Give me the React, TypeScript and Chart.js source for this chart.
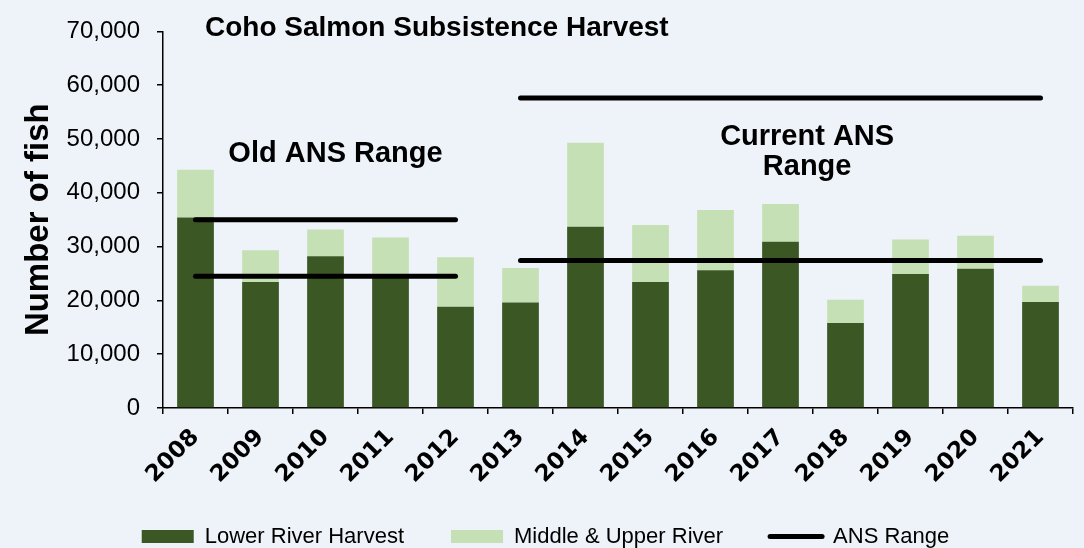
import React, { useEffect, useRef } from "react";
import { Chart, registerables } from "chart.js";

Chart.register(...registerables);

// ---- Data ----
const years = ["2008", "2009", "2010", "2011", "2012", "2013", "2014", "2015", "2016", "2017", "2018", "2019", "2020", "2021"];
const lowerRiverHarvest = [35400, 23400, 28200, 24400, 18800, 19600, 33700, 23400, 25600, 30900, 15800, 24900, 25900, 19700];
const middleUpperRiver = [8900, 5900, 5000, 7300, 9200, 6400, 15600, 10600, 11200, 7000, 4300, 6400, 6100, 3000];
const oldAnsLower = [24500, 24500, 24500, 24500, 24500, null, null, null, null, null, null, null, null, null];
const oldAnsUpper = [35000, 35000, 35000, 35000, 35000, null, null, null, null, null, null, null, null, null];
const currentAnsLower = [null, null, null, null, null, 27400, 27400, 27400, 27400, 27400, 27400, 27400, 27400, 27400];
const currentAnsUpper = [null, null, null, null, null, 57600, 57600, 57600, 57600, 57600, 57600, 57600, 57600, 57600];
const yTickValues = [0, 10000, 20000, 30000, 40000, 50000, 60000, 70000];

const seriesNames = ["Lower River Harvest", "Middle & Upper River", "ANS Range"];
const chartTitle = "Coho Salmon Subsistence Harvest";
const yAxisTitle = "Number of fish";
const oldRangeLabel = "Old ANS Range";
const currentRangeLabel = ["Current ANS", "Range"];

// ---- Styles ----
const FONT = "'Liberation Sans', Arial, sans-serif";
const DARK = "#3B5724";
const LIGHT = "#C5E0B4";
const BG = "#EEF2F9";

const annotationPlugin = {
  id: "rangeAnnotations",
  afterLayout(chart: any) {
    // let rotated year labels extend below the axis box (not clipped)
    const xs = chart.scales.x;
    if (xs) xs.bottom = chart.height;
    // nudge legend row to match reference placement
    if (chart.legend) {
      chart.legend.left += 9;
      chart.legend.right += 9;
    }
  },
  afterDraw(chart: any) {
    const { ctx } = chart;
    const x = chart.scales.x;
    const y = chart.scales.y;
    ctx.save();
    ctx.fillStyle = "#000";
    ctx.textBaseline = "alphabetic";
    // title
    ctx.font = `bold 28px ${FONT}`;
    ctx.textAlign = "left";
    ctx.fillText(chartTitle, x.getPixelForValue(0.146), y.getPixelForValue(69080));
    // old range label
    ctx.font = `bold 29px ${FONT}`;
    ctx.textAlign = "center";
    ctx.fillText(oldRangeLabel, x.getPixelForValue(2.154), y.getPixelForValue(45700));
    // current range label
    ctx.fillText(currentRangeLabel[0], x.getPixelForValue(9.41), y.getPixelForValue(48800));
    ctx.fillText(currentRangeLabel[1], x.getPixelForValue(9.41), y.getPixelForValue(43300));
    ctx.restore();
  },
};

export default function App() {
  const canvasRef = useRef<HTMLCanvasElement | null>(null);

  useEffect(() => {
    document.body.style.margin = "0";
    document.body.style.background = BG;
    const canvas = canvasRef.current;
    if (!canvas) return;

    const lineDataset = (label: string, data: (number | null)[], stack: string) => ({
      type: "line" as const,
      label,
      data,
      stack,
      order: 0,
      borderColor: "#000",
      backgroundColor: "#000",
      borderWidth: 5,
      borderCapStyle: "round" as const,
      pointRadius: 0,
      pointHoverRadius: 0,
      fill: false,
      spanGaps: false,
    });

    const chart = new Chart(canvas, {
      type: "bar",
      data: {
        labels: years,
        datasets: [
          {
            type: "bar",
            label: seriesNames[0],
            data: lowerRiverHarvest,
            backgroundColor: DARK,
            stack: "harvest",
            order: 1,
            barPercentage: 0.565,
            categoryPercentage: 1,
          },
          {
            type: "bar",
            label: seriesNames[1],
            data: middleUpperRiver,
            backgroundColor: LIGHT,
            stack: "harvest",
            order: 1,
            barPercentage: 0.565,
            categoryPercentage: 1,
          },
          lineDataset(seriesNames[2], currentAnsUpper, "ans-cur-up"),
          lineDataset(seriesNames[2], currentAnsLower, "ans-cur-low"),
          lineDataset(seriesNames[2], oldAnsUpper, "ans-old-up"),
          lineDataset(seriesNames[2], oldAnsLower, "ans-old-low"),
        ] as any,
      },
      options: {
        responsive: false,
        animation: false,
        devicePixelRatio: 1,
        layout: { padding: { top: 28, right: 11, left: 0, bottom: -9.5 } },
        scales: {
          x: {
            stacked: true,
            afterFit: (scale: any) => {
              scale.height = 70.5;
            },
            grid: {
              display: true,
              drawOnChartArea: false,
              drawTicks: true,
              tickLength: 6,
              color: "#000",
              lineWidth: 1.5,
              offset: true,
            },
            border: { display: true, color: "#000", width: 1.5 },
            ticks: {
              autoSkip: false,
              minRotation: 45,
              maxRotation: 45,
              padding: 10,
              color: "#000",
              font: { family: "'DejaVu Sans', Verdana, sans-serif", weight: "bold", size: 23 },
            },
          },
          y: {
            stacked: true,
            min: 0,
            max: 70000,
            afterFit: (scale: any) => {
              scale.width = 163;
            },
            afterBuildTicks: (scale: any) => {
              scale.ticks = yTickValues.map((v) => ({ value: v }));
            },
            grid: {
              display: true,
              drawOnChartArea: false,
              drawTicks: true,
              tickLength: 6,
              color: "#000",
              lineWidth: 1.5,
            },
            border: { display: true, color: "#000", width: 1.5 },
            ticks: {
              padding: 17,
              color: "#000",
              font: { family: FONT, size: 24 },
              callback: (v: any) => Number(v).toLocaleString("en-US"),
            },
            title: {
              display: true,
              text: yAxisTitle,
              color: "#000",
              font: { family: FONT, size: 33, weight: "bold" },
              padding: { top: 19, bottom: 0 },
            },
          },
        },
        plugins: {
          title: { display: false },
          tooltip: { enabled: false },
          legend: {
            display: true,
            position: "bottom",
            labels: {
              usePointStyle: true,
              pointStyleWidth: 52,
              boxHeight: 13,
              padding: 47,
              color: "#000",
              font: { family: FONT, size: 22 },
              generateLabels: (c: any) => {
                const items = (Chart.defaults.plugins.legend.labels as any).generateLabels(c);
                return items
                  .filter((it: any) => it.datasetIndex <= 2)
                  .sort((a: any, b: any) => a.datasetIndex - b.datasetIndex)
                  .map((it: any) => ({
                    ...it,
                    pointStyle: it.datasetIndex === 2 ? "line" : "rect",
                    lineWidth: it.datasetIndex === 2 ? 5 : 0,
                    strokeStyle: "#000",
                    lineCap: "round",
                  }));
              },
            },
          },
        },
      } as any,
      plugins: [annotationPlugin],
    });

    return () => chart.destroy();
  }, []);

  return (
    <div style={{ width: 1084, height: 548, background: BG }}>
      <canvas ref={canvasRef} width={1084} height={548} style={{ display: "block", width: 1084, height: 548 }} />
    </div>
  );
}
